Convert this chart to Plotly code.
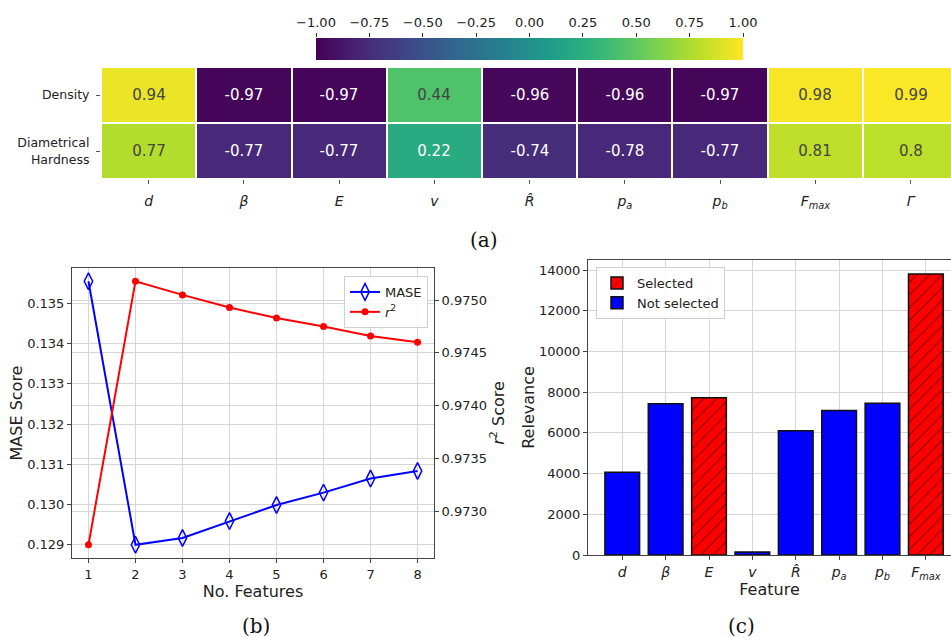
import plotly.graph_objects as go

W, H = 951, 637

# ---------------- data ----------------
# (a) correlation heatmap
hm_rows = ["Density", "Diametrical<br>Hardness"]
hm_cols = ["<i>d</i>", "<i>β</i>", "<i>E</i>", "<i>v</i>", "<i>R̂</i>",
           "<i>p<sub>a</sub></i>", "<i>p<sub>b</sub></i>", "<i>F<sub>max</sub></i>", "<i>Γ</i>"]
density_corr = [0.94, -0.97, -0.97, 0.44, -0.96, -0.96, -0.97, 0.98, 0.99]
hardness_corr = [0.77, -0.77, -0.77, 0.22, -0.74, -0.78, -0.77, 0.81, 0.8]
cb_ticks = [-1.0, -0.75, -0.5, -0.25, 0.0, 0.25, 0.5, 0.75, 1.0]
cb_ticktext = ["−1.00", "−0.75", "−0.50", "−0.25", "0.00", "0.25", "0.50", "0.75", "1.00"]

# (b) feature count scores
n_features = [1, 2, 3, 4, 5, 6, 7, 8]
mase = [0.13556, 0.12899, 0.12916, 0.12958, 0.12998, 0.13029, 0.13064, 0.13083]
r2 = [0.97268, 0.97518, 0.97505, 0.97493, 0.97483, 0.97475, 0.97466, 0.97460]
mase_ticks = [0.129, 0.130, 0.131, 0.132, 0.133, 0.134, 0.135]
r2_ticks = [0.9730, 0.9735, 0.9740, 0.9745, 0.9750]

# (c) relevance
features = ["<i>d</i>", "<i>β</i>", "<i>E</i>", "<i>v</i>", "<i>R̂</i>",
            "<i>p<sub>a</sub></i>", "<i>p<sub>b</sub></i>", "<i>F<sub>max</sub></i>"]
relevance = [4060, 7430, 7730, 150, 6100, 7100, 7460, 13800]
selected = [False, False, True, False, False, False, False, True]
rel_ticks = [0, 2000, 4000, 6000, 8000, 10000, 12000, 14000]

# ---------------- helpers ----------------
def px_x(p):
    return p / W

def px_y(p):
    return 1 - p / H

FONT = "DejaVu Sans"
GRID = "#d6d6d6"
SPINE = "#444444"
TXT = "#222222"

fig = go.Figure()

# (a) heatmap
z = [density_corr, hardness_corr]
fig.add_trace(go.Heatmap(
    z=z, x=hm_cols, y=hm_rows,
    text=[[str(v) for v in row] for row in z],
    colorscale="Viridis", zmin=-1, zmax=1,
    texttemplate="%{text}", textfont=dict(size=15, family=FONT),
    xgap=2, ygap=2, xaxis="x", yaxis="y",
    colorbar=dict(orientation="h", x=(316 + 743) / 2 / W, xanchor="center",
                  len=(743 - 316) / W, lenmode="fraction", thickness=22,
                  y=px_y(59.5), yanchor="bottom", xpad=0, ypad=0,
                  outlinewidth=0, showticklabels=False, ticks=""),
    hoverinfo="skip", showlegend=False,
))

# invisible carrier so the colorbar tick axis is drawn
fig.add_trace(go.Scatter(
    x=cb_ticks, y=[0.5] * len(cb_ticks), mode="markers",
    marker=dict(opacity=0, size=1), xaxis="x5", yaxis="y5",
    hoverinfo="skip", showlegend=False,
))

# (b) lines
fig.add_trace(go.Scatter(
    x=n_features, y=mase, name="MASE", mode="lines+markers",
    line=dict(color="#0000ff", width=2),
    marker=dict(symbol="diamond-tall-open", size=12, color="#0000ff", line=dict(width=1.5, color="#0000ff")),
    xaxis="x2", yaxis="y2", legend="legend",
))
fig.add_trace(go.Scatter(
    x=n_features, y=r2, name="<i>r</i><sup>2</sup>", mode="lines+markers",
    line=dict(color="#ff0000", width=2),
    marker=dict(symbol="circle", size=7, color="#ff0000"),
    xaxis="x2", yaxis="y3", legend="legend",
))

# (c) bars
sel_x = [f for f, s in zip(features, selected) if s]
sel_y = [v for v, s in zip(relevance, selected) if s]
ns_x = [f for f, s in zip(features, selected) if not s]
ns_y = [v for v, s in zip(relevance, selected) if not s]
fig.add_trace(go.Bar(
    x=sel_x, y=sel_y, name="Selected", width=0.8,
    marker=dict(color="#ff0000", line=dict(color="#111111", width=1.5),
                pattern=dict(shape="/", fgcolor="#111111", bgcolor="#ff0000", size=9, solidity=0.12)),
    xaxis="x3", yaxis="y4", legend="legend2",
))
fig.add_trace(go.Bar(
    x=ns_x, y=ns_y, name="Not selected", width=0.8,
    marker=dict(color="#0000ff", line=dict(color="#111111", width=1.5)),
    xaxis="x3", yaxis="y4", legend="legend2",
))

tickfont = dict(family=FONT, size=13, color=TXT)
titlefont = dict(family=FONT, size=16, color=TXT)

fig.update_layout(
    width=W, height=H, margin=dict(l=0, r=0, t=0, b=0, autoexpand=False),
    paper_bgcolor="white", plot_bgcolor="rgba(0,0,0,0)",
    font=dict(family=FONT, color=TXT),
    barmode="overlay",
    # heatmap axes
    xaxis=dict(domain=[px_x(101), 1], anchor="y", range=[-0.5, 8.424], automargin=False,
               tickfont=dict(family=FONT, size=14, color=TXT), ticks="outside", ticklen=4,
               tickcolor="#555", showgrid=False, zeroline=False, showline=False,
               categoryorder="array", categoryarray=hm_cols, ticklabelstandoff=5),
    yaxis=dict(domain=[px_y(179), px_y(67)], anchor="x", range=[1.5, -0.5], automargin=False,
               tickfont=dict(family=FONT, size=12.5, color=TXT), ticks="outside", ticklen=4,
               tickcolor="#555", showgrid=False, zeroline=False, showline=False,
               ticklabelstandoff=4),
    # colorbar tick axis
    xaxis5=dict(domain=[px_x(316), px_x(743)], anchor="y5", range=[-1, 1], side="top",
                automargin=False,
                tickvals=cb_ticks, ticktext=cb_ticktext, ticks="outside", ticklen=4,
                tickcolor="#333", tickfont=dict(family=FONT, size=13, color=TXT),
                showgrid=False, zeroline=False, showline=False, fixedrange=True),
    yaxis5=dict(domain=[px_y(59.5), px_y(37.5)], anchor="x5", visible=False, range=[0, 1],
                fixedrange=True, automargin=False),
    # (b) axes
    xaxis2=dict(domain=[px_x(72), px_x(434)], anchor="y2", range=[0.65, 8.35], automargin=False,
                tickvals=n_features, tickfont=tickfont, ticks="outside", ticklen=4, tickcolor=SPINE,
                showgrid=True, gridcolor=GRID, gridwidth=1, zeroline=False,
                showline=True, linecolor=SPINE, linewidth=1, mirror=True,
                title=dict(text="No. Features", font=titlefont, standoff=0)),
    yaxis2=dict(domain=[px_y(558), px_y(268)], anchor="x2", range=[0.12866, 0.13589],
                automargin=False,
                tickvals=mase_ticks, tickformat=".3f", tickfont=tickfont, ticks="outside",
                ticklen=4, tickcolor=SPINE, showgrid=True, gridcolor=GRID, gridwidth=1,
                zeroline=False, showline=True, linecolor=SPINE, linewidth=1,
                title=dict(text="MASE Score", font=titlefont, standoff=0)),
    yaxis3=dict(overlaying="y2", anchor="x2", side="right", range=[0.972555, 0.975305],
                automargin=False,
                tickvals=r2_ticks, tickformat=".4f", tickfont=tickfont, ticks="outside",
                ticklen=4, tickcolor=SPINE, showgrid=True, gridcolor=GRID, gridwidth=1,
                zeroline=False, showline=True, linecolor=SPINE, linewidth=1,
                title=dict(text="<i>r</i><sup>2</sup> Score", font=titlefont, standoff=2)),
    # (c) axes
    xaxis3=dict(domain=[px_x(588), 1], anchor="y4", range=[-0.79, 7.58], automargin=False,
                categoryorder="array", categoryarray=features,
                tickfont=dict(family=FONT, size=14, color=TXT), ticks="outside", ticklen=4,
                tickcolor=SPINE, showgrid=True, gridcolor=GRID, gridwidth=1, zeroline=False,
                showline=True, linecolor=SPINE, linewidth=1, mirror=True,
                title=dict(text="Feature", font=titlefont, standoff=0)),
    yaxis4=dict(domain=[px_y(555), px_y(260)], anchor="x3", range=[0, 14493], automargin=False,
                tickvals=rel_ticks, tickformat="d", tickfont=tickfont, ticks="outside", ticklen=4,
                tickcolor=SPINE, showgrid=True, gridcolor=GRID, gridwidth=1, zeroline=False,
                showline=True, linecolor=SPINE, linewidth=1,
                title=dict(text="Relevance", font=titlefont, standoff=0)),
    legend=dict(x=px_x(428), xanchor="right", y=px_y(276), yanchor="top",
                bgcolor="rgba(255,255,255,0.85)", bordercolor="#d0d0d0", borderwidth=1,
                font=dict(family=FONT, size=13, color=TXT), tracegroupgap=0,
                itemwidth=30),
    legend2=dict(x=px_x(596), xanchor="left", y=px_y(267), yanchor="top",
                 bgcolor="rgba(255,255,255,0.85)", bordercolor="#d0d0d0", borderwidth=1,
                 font=dict(family=FONT, size=13, color=TXT), tracegroupgap=0,
                 traceorder="normal", itemwidth=30),
    showlegend=True,
)

# panel labels
for txt, xp, yp in [("(a)", 484, 240), ("(b)", 256, 626), ("(c)", 741, 626)]:
    fig.add_annotation(text=txt, x=px_x(xp), y=px_y(yp), xref="paper", yref="paper",
                       showarrow=False, xanchor="center", yanchor="middle",
                       font=dict(family="DejaVu Serif", size=20, color="#111111"))

fig.write_html("out.html")
